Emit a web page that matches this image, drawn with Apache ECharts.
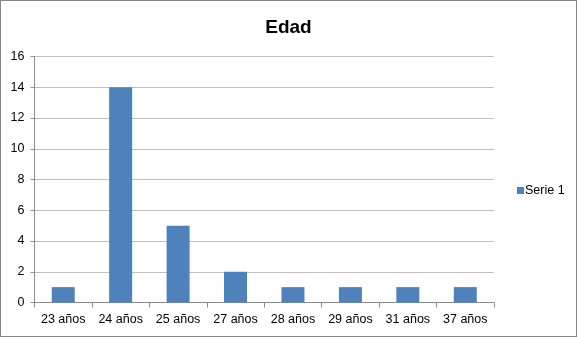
<!DOCTYPE html>
<html>
<head>
<meta charset="utf-8">
<script src="https://cdn.jsdelivr.net/npm/echarts@6/dist/echarts.min.js"></script>
<style>
html,body{margin:0;padding:0;background:#fff;}
#frame{position:absolute;left:0;top:0;width:575px;height:335px;border:1px solid #868686;}
#c{width:577px;height:337px;position:absolute;left:0;top:0;}
</style>
</head>
<body>
<div id="frame"></div>
<div id="c"></div>
<script>
const categories = ["23 años","24 años","25 años","27 años","28 años","29 años","31 años","37 años"];
const serie1 = [1,14,5,2,1,1,1,1];
const seriesName = "Serie 1";
const yMin = 0, yMax = 16, yInterval = 2;

const chart = echarts.init(document.getElementById('c'), null, {renderer:'canvas'});
chart.setOption({
  animation:false,
  backgroundColor:'transparent',
  title:{text:'Edad',left:'center',top:13,textStyle:{fontFamily:'Liberation Sans',fontWeight:'bold',fontSize:19,color:'#000'}},
  legend:{data:[seriesName],orient:'vertical',left:512,top:179,itemWidth:7,itemHeight:7,itemGap:4,
    textStyle:{fontFamily:'Liberation Sans',fontSize:12.5,color:'#000',padding:[0,0,0,-4]},icon:'rect'},
  grid:{left:34.5,right:83,top:56.5,bottom:34.5,containLabel:false},
  xAxis:{type:'category',data:categories,boundaryGap:true,
    axisLine:{lineStyle:{color:'#8c8c8c',width:1}},
    axisTick:{show:true,length:5,interval:0,lineStyle:{color:'#8c8c8c'}},
    axisLabel:{interval:0,margin:11,fontFamily:'Liberation Sans',fontSize:12.5,color:'#000'}},
  yAxis:{type:'value',min:yMin,max:yMax,interval:yInterval,
    axisLine:{show:true,lineStyle:{color:'#8c8c8c'}},
    axisTick:{show:true,length:4,lineStyle:{color:'#8c8c8c'}},
    splitLine:{lineStyle:{color:'#bfbfbf',width:1}},
    axisLabel:{margin:10,fontFamily:'Liberation Sans',fontSize:12.5,color:'#000'}},
  series:[{name:seriesName,type:'bar',data:serie1,barWidth:23,
    itemStyle:{color:'#4F81BD'}}]
});
</script>
</body>
</html>
